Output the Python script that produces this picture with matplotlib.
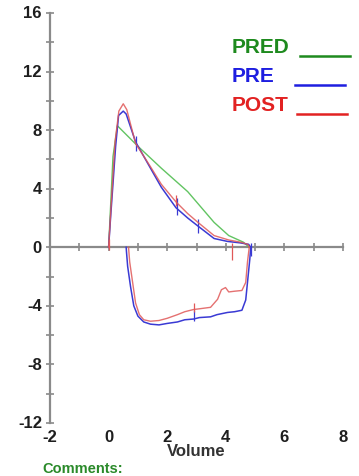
import matplotlib
matplotlib.use("Agg")
import matplotlib.pyplot as plt
import matplotlib.transforms as mtrans
from matplotlib.lines import Line2D

# ---------------- data ----------------
pred_vol = [0.0, 0.15, 0.3, 1.0, 1.8, 2.7, 3.6, 4.1, 4.6, 4.8]
pred_flow = [0.0, 6.2, 8.3, 6.9, 5.4, 3.8, 1.7, 0.8, 0.35, 0.0]

pre_exp_vol = [0.0, 0.07, 0.24, 0.34, 0.5, 0.6, 0.92, 1.43, 1.8, 2.3, 2.7, 3.05, 3.6, 4.06, 4.5, 4.78, 4.85]
pre_exp_flow = [0.0, 2.1, 6.9, 9.0, 9.3, 9.1, 7.2, 5.4, 4.1, 2.7, 2.0, 1.45, 0.6, 0.4, 0.3, 0.2, 0.0]

post_exp_vol = [0.0, 0.07, 0.22, 0.35, 0.5, 0.62, 0.92, 1.43, 1.8, 2.3, 2.7, 3.05, 3.6, 4.1, 4.5, 4.75, 4.8]
post_exp_flow = [0.0, 2.3, 7.2, 9.3, 9.8, 9.4, 7.1, 5.5, 4.3, 3.1, 2.3, 1.7, 0.8, 0.5, 0.35, 0.2, 0.0]

pre_insp_vol = [4.85, 4.82, 4.76, 4.68, 4.55, 4.3, 4.06, 3.7, 3.48, 3.1, 2.9, 2.6, 2.35, 2.0,
                1.72, 1.43, 1.2, 1.0, 0.86, 0.75, 0.65, 0.61, 0.60]
pre_insp_flow = [0.0, -0.8, -2.0, -3.6, -4.3, -4.4, -4.45, -4.6, -4.75, -4.8, -4.9, -4.95, -5.1, -5.2,
                 -5.3, -5.25, -5.1, -4.7, -4.0, -2.7, -1.3, -0.3, 0.0]

post_insp_vol = [4.8, 4.77, 4.74, 4.68, 4.55, 4.3, 4.1, 3.99, 3.85, 3.72, 3.48, 3.1, 2.9, 2.6, 2.35,
                 2.0, 1.72, 1.43, 1.2, 1.05, 0.92, 0.82, 0.72, 0.68]
post_insp_flow = [0.0, -0.5, -1.0, -2.4, -2.95, -3.0, -3.05, -2.75, -2.9, -3.55, -4.1, -4.2, -4.25, -4.4,
                  -4.6, -4.85, -5.0, -5.05, -4.95, -4.6, -3.8, -2.4, -1.0, 0.0]

# small event marks on the curves
pre_mark_vol = [0.92, 2.35, 3.05, 2.9, 4.85]
pre_mark_lo = [6.6, 2.2, 1.0, -5.0, -0.6]
pre_mark_hi = [7.6, 3.4, 1.9, -4.3, 0.3]
post_mark_vol = [0.0, 2.3, 4.2, 2.9]
post_mark_lo = [-0.2, 2.8, -0.9, -4.4]
post_mark_hi = [0.6, 3.6, 0.3, -3.8]

x_ticks = [-2, 0, 2, 4, 6, 8]
y_ticks = [-12, -8, -4, 0, 4, 8, 12, 16]
legend_names = ["PRED", "PRE", "POST"]

# ---------------- styling ----------------
W, H = 359, 477
fig = plt.figure(figsize=(W / 100, H / 100), dpi=100)
FONT = "Liberation Sans"


def fx(px):
    return px / W


def fy(py):
    return 1 - py / H


ax_l, ax_r, ax_t, ax_b = 50, 343, 14, 424
ax = fig.add_axes([fx(ax_l), fy(ax_b), (ax_r - ax_l) / W, (ax_b - ax_t) / H])
ax.set_xlim(-2, 8)
ax.set_ylim(-12, 16)

green_c, blue_c, red_c = "#62c462", "#3a3ad4", "#e05858"

ax.plot(pred_vol, pred_flow, color=green_c, lw=1.0, zorder=3)
ax.plot(pre_exp_vol, pre_exp_flow, color=blue_c, lw=1.1, zorder=4)
ax.plot(pre_insp_vol, pre_insp_flow, color=blue_c, lw=1.1, zorder=4)
ax.plot(post_exp_vol, post_exp_flow, color=red_c, lw=1.0, zorder=5, alpha=0.85)
ax.plot(post_insp_vol, post_insp_flow, color=red_c, lw=1.0, zorder=5, alpha=0.85)
ax.vlines(pre_mark_vol, pre_mark_lo, pre_mark_hi, color=blue_c, lw=0.9, zorder=4)
ax.vlines(post_mark_vol, post_mark_lo, post_mark_hi, color=red_c, lw=0.9, zorder=5)

axis_c = "#8a8a8a"
for s in ["top", "right"]:
    ax.spines[s].set_visible(False)
ax.spines["left"].set_color(axis_c)
ax.spines["left"].set_linewidth(1.6)
ax.spines["bottom"].set_position(("data", 0))
ax.spines["bottom"].set_color(axis_c)
ax.spines["bottom"].set_linewidth(1.6)

ax.set_xticks(range(-2, 9, 1))
ax.set_yticks(range(-12, 17, 2))
ax.tick_params(axis="both", direction="inout", length=6, width=1.2, color=axis_c,
               labelbottom=False, labelleft=False)

tick_txt_c = "#1e1e1e"
off = mtrans.ScaledTranslation(-8 / 100, 0, fig.dpi_scale_trans)
for v in y_ticks:
    ax.text(-2, v, str(v), transform=ax.transData + off, ha="right", va="center",
            fontsize=12, fontweight="bold", family=FONT, color=tick_txt_c)

xt = mtrans.blended_transform_factory(ax.transData, fig.transFigure)
for v in x_ticks:
    ax.text(v, fy(438), str(v), transform=xt, ha="center", va="center",
            fontsize=12, fontweight="bold", family=FONT, color=tick_txt_c)

fig.text(fx((ax_l + ax_r) / 2), fy(452), "Volume", ha="center", va="center",
         fontsize=12, fontweight="bold", family=FONT, color="#333333")

fig.text(fx(42), fy(473), "Comments:", ha="left", va="baseline",
         fontsize=10.5, fontweight="bold", family=FONT, color="#2a8a2a")

# legend
leg_colors = ["#1e8a1e", "#1e1ee0", "#e22222"]
leg_text_y = [53, 82, 111]
leg_line = [(300, 350, 57), (295, 345, 86), (297, 347, 115)]
for name, c, ty, (x0, x1, ly) in zip(legend_names, leg_colors, leg_text_y, leg_line):
    fig.text(fx(232), fy(ty), name, ha="left", va="baseline", fontsize=15,
             fontweight="bold", family=FONT, color=c)
    fig.add_artist(Line2D([fx(x0), fx(x1)], [fy(ly), fy(ly)], transform=fig.transFigure,
                          color=c, lw=1.8))

fig.savefig("out.png", dpi=100)
